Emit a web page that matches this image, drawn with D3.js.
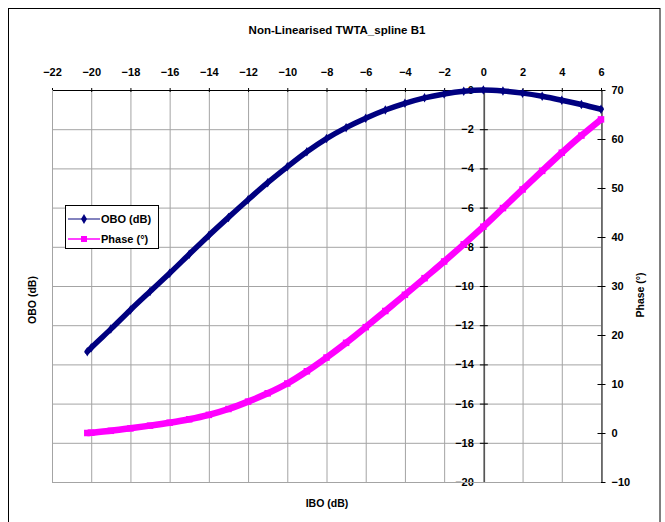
<!DOCTYPE html>
<html>
<head>
<meta charset="utf-8">
<script src="https://cdn.jsdelivr.net/npm/d3@7"></script>
<style>
  body { margin: 0; background: #fff; }
  text { font-family: "Liberation Sans", Arial, sans-serif; font-weight: bold; }
</style>
</head>
<body>
<div id="chart"></div>
<script>
// IBO (dB) sample points, OBO (dB) and phase (deg)
const ibo = [-20.2, -20, -19, -18, -17, -16, -15, -14, -13, -12, -11, -10, -9, -8, -7,
    -6, -5, -4, -3, -2, -1, 0, 1, 2, 3, 4, 5, 6];
const obo = [-13.35, -13.15, -12.2, -11.22, -10.28, -9.35, -8.38, -7.42, -6.5, -5.6, -4.73, -3.92, -3.15, -2.48, -1.92,
    -1.44, -1.02, -0.68, -0.4, -0.2, -0.06, 0, -0.05, -0.16, -0.32, -0.52, -0.74, -0.98];
const phase = [0.0, 0.05, 0.45, 0.95, 1.5, 2.1, 2.8, 3.7, 4.9, 6.4, 8.1, 10.1, 12.6, 15.4, 18.4,
    21.6, 24.9, 28.2, 31.6, 35.0, 38.5, 42.1, 45.9, 49.7, 53.5, 57.2, 60.7, 64.0];

const xTicks = d3.range(-22, 7, 2);
const oboTicks = d3.range(0, -21, -2);
const phaseTicks = d3.range(-10, 71, 10);

const colors = {
    obo: '#000080',
    oboLegend: '#5a5aa8',
    phase: '#ff00ff',
    grid: '#a4a4a4',
    axis: '#555',
}

const width = 665, height = 522;
const plot = {left: 52, right: 601, top: 90, bottom: 482};

const svg = d3.select("#chart").append("svg")
    .attr("width", width)
    .attr("height", height);

// chart border (bottom edge falls outside the picture)
svg.append("rect")
    .attr("x", 8.5).attr("y", 8.5)
    .attr("width", 651.5).attr("height", 530)
    .attr("fill", "none").attr("stroke", "#000");

const x = d3.scaleLinear().domain([-22, 6]).range([plot.left, plot.right]);
const y = d3.scaleLinear().domain([-20, 0]).range([plot.bottom, plot.top]);
const y2 = d3.scaleLinear().domain([-10, 70]).range([plot.bottom, plot.top]);

// gridlines
svg.append("g").selectAll("line")
    .data(xTicks).enter().append("line")
    .attr("x1", d => x(d) + 0.5).attr("x2", d => x(d) + 0.5)
    .attr("y1", plot.top).attr("y2", plot.bottom)
    .attr("stroke", colors.grid);
svg.append("g").selectAll("line")
    .data(oboTicks).enter().append("line")
    .attr("x1", plot.left).attr("x2", plot.right)
    .attr("y1", d => y(d) + 0.5).attr("y2", d => y(d) + 0.5)
    .attr("stroke", colors.grid);

// IBO axis along the top (crosses at OBO = 0)
const xAxis = svg.append("g")
    .attr("transform", "translate(0," + y(0) + ")")
    .call(d3.axisTop(x).tickValues(xTicks).tickSizeInner(4).tickSizeOuter(0).tickPadding(10));
xAxis.select(".domain").attr("stroke", "#000");
xAxis.selectAll(".tick line").attr("y2", 4).attr("transform", "translate(0,-2)");
xAxis.selectAll("text").attr("font-size", 11).attr("fill", "#000");

// OBO axis (crosses at IBO = 0)
const yAxis = svg.append("g")
    .attr("transform", "translate(" + (x(0) + 0.5) + ",0)")
    .call(d3.axisLeft(y).tickValues(oboTicks).tickSizeInner(8).tickSizeOuter(0).tickPadding(2));
yAxis.select(".domain").attr("stroke", colors.axis).attr("stroke-width", 1.5);
yAxis.selectAll(".tick line").attr("stroke", "#000").attr("transform", "translate(4,0)");
yAxis.selectAll("text").attr("font-size", 11).attr("fill", "#000");

// Phase axis on the right
const y2Axis = svg.append("g")
    .attr("transform", "translate(" + (plot.right + 0.5) + ",0)")
    .call(d3.axisRight(y2).tickValues(phaseTicks).tickSizeInner(8).tickSizeOuter(0).tickPadding(2));
y2Axis.select(".domain").attr("stroke", colors.axis).attr("stroke-width", 1.5);
y2Axis.selectAll(".tick line").attr("stroke", "#000").attr("transform", "translate(-4,0)");
y2Axis.selectAll("text").attr("font-size", 11).attr("fill", "#000");

// left and bottom edges of the plot area
svg.append("path")
    .attr("d", "M" + (plot.left + 0.5) + "," + plot.top + "V" + (plot.bottom + 0.5) + "H" + plot.right)
    .attr("fill", "none").attr("stroke", colors.grid);

const points = ibo.map((d, i) => ({ibo: d, obo: obo[i], phase: phase[i]}));

// OBO curve (dense markers in the original read as a thick band)
svg.append("path")
    .datum(points)
    .attr("fill", "none")
    .attr("stroke", colors.obo)
    .attr("stroke-width", 5.5)
    .attr("stroke-linecap", "round")
    .attr("d", d3.line().curve(d3.curveMonotoneX).x(d => x(d.ibo)).y(d => y(d.obo)));
svg.append("g").selectAll("path")
    .data(points).enter().append("path")
    .attr("transform", d => "translate(" + x(d.ibo) + "," + y(d.obo) + ")")
    .attr("d", d3.symbol(d3.symbolDiamond, 26))
    .attr("fill", colors.obo);

// Phase curve
svg.append("path")
    .datum(points)
    .attr("fill", "none")
    .attr("stroke", colors.phase)
    .attr("stroke-width", 6.5)
    .attr("d", d3.line().curve(d3.curveMonotoneX).x(d => x(d.ibo)).y(d => y2(d.phase)));
svg.append("g").selectAll("rect")
    .data(points).enter().append("rect")
    .attr("x", d => x(d.ibo) - 3.25).attr("y", d => y2(d.phase) - 3.25)
    .attr("width", 6.5).attr("height", 6.5)
    .attr("fill", colors.phase);

// titles
svg.append("text")
    .attr("x", 337).attr("y", 34)
    .attr("text-anchor", "middle").attr("font-size", 11.5)
    .text("Non-Linearised TWTA_spline B1");
svg.append("text")
    .attr("x", 327).attr("y", 507)
    .attr("text-anchor", "middle").attr("font-size", 10.5)
    .text("IBO (dB)");
svg.append("text")
    .attr("transform", "translate(36,300)rotate(-90)")
    .attr("text-anchor", "middle").attr("font-size", 10.5)
    .text("OBO (dB)");
svg.append("text")
    .attr("transform", "translate(644,295)rotate(-90)")
    .attr("text-anchor", "middle").attr("font-size", 10.5)
    .text("Phase (°)");

// legend
const legend = svg.append("g").attr("transform", "translate(65,205)");
legend.append("rect")
    .attr("x", 0.5).attr("y", 0.5)
    .attr("width", 93).attr("height", 43)
    .attr("fill", "#fff").attr("stroke", "#000");
const entries = [
    {label: "OBO (dB)", line: colors.oboLegend, fill: colors.obo, marker: "diamond", yy: 14},
    {label: "Phase (°)", line: colors.phase, fill: colors.phase, marker: "square", yy: 34},
];
entries.forEach(e => {
    legend.append("line")
        .attr("x1", 3).attr("x2", 35)
        .attr("y1", e.yy).attr("y2", e.yy)
        .attr("stroke", e.line).attr("stroke-width", 1.5);
    if (e.marker === "diamond") {
        legend.append("path")
            .attr("transform", "translate(19," + e.yy + ")")
            .attr("d", d3.symbol(d3.symbolDiamond, 30))
            .attr("fill", e.fill);
    } else {
        legend.append("rect")
            .attr("x", 16).attr("y", e.yy - 3)
            .attr("width", 6).attr("height", 6)
            .attr("fill", e.fill);
    }
    legend.append("text")
        .attr("x", 36).attr("y", e.yy + 4)
        .attr("font-size", 11)
        .text(e.label);
});
</script>
</body>
</html>
